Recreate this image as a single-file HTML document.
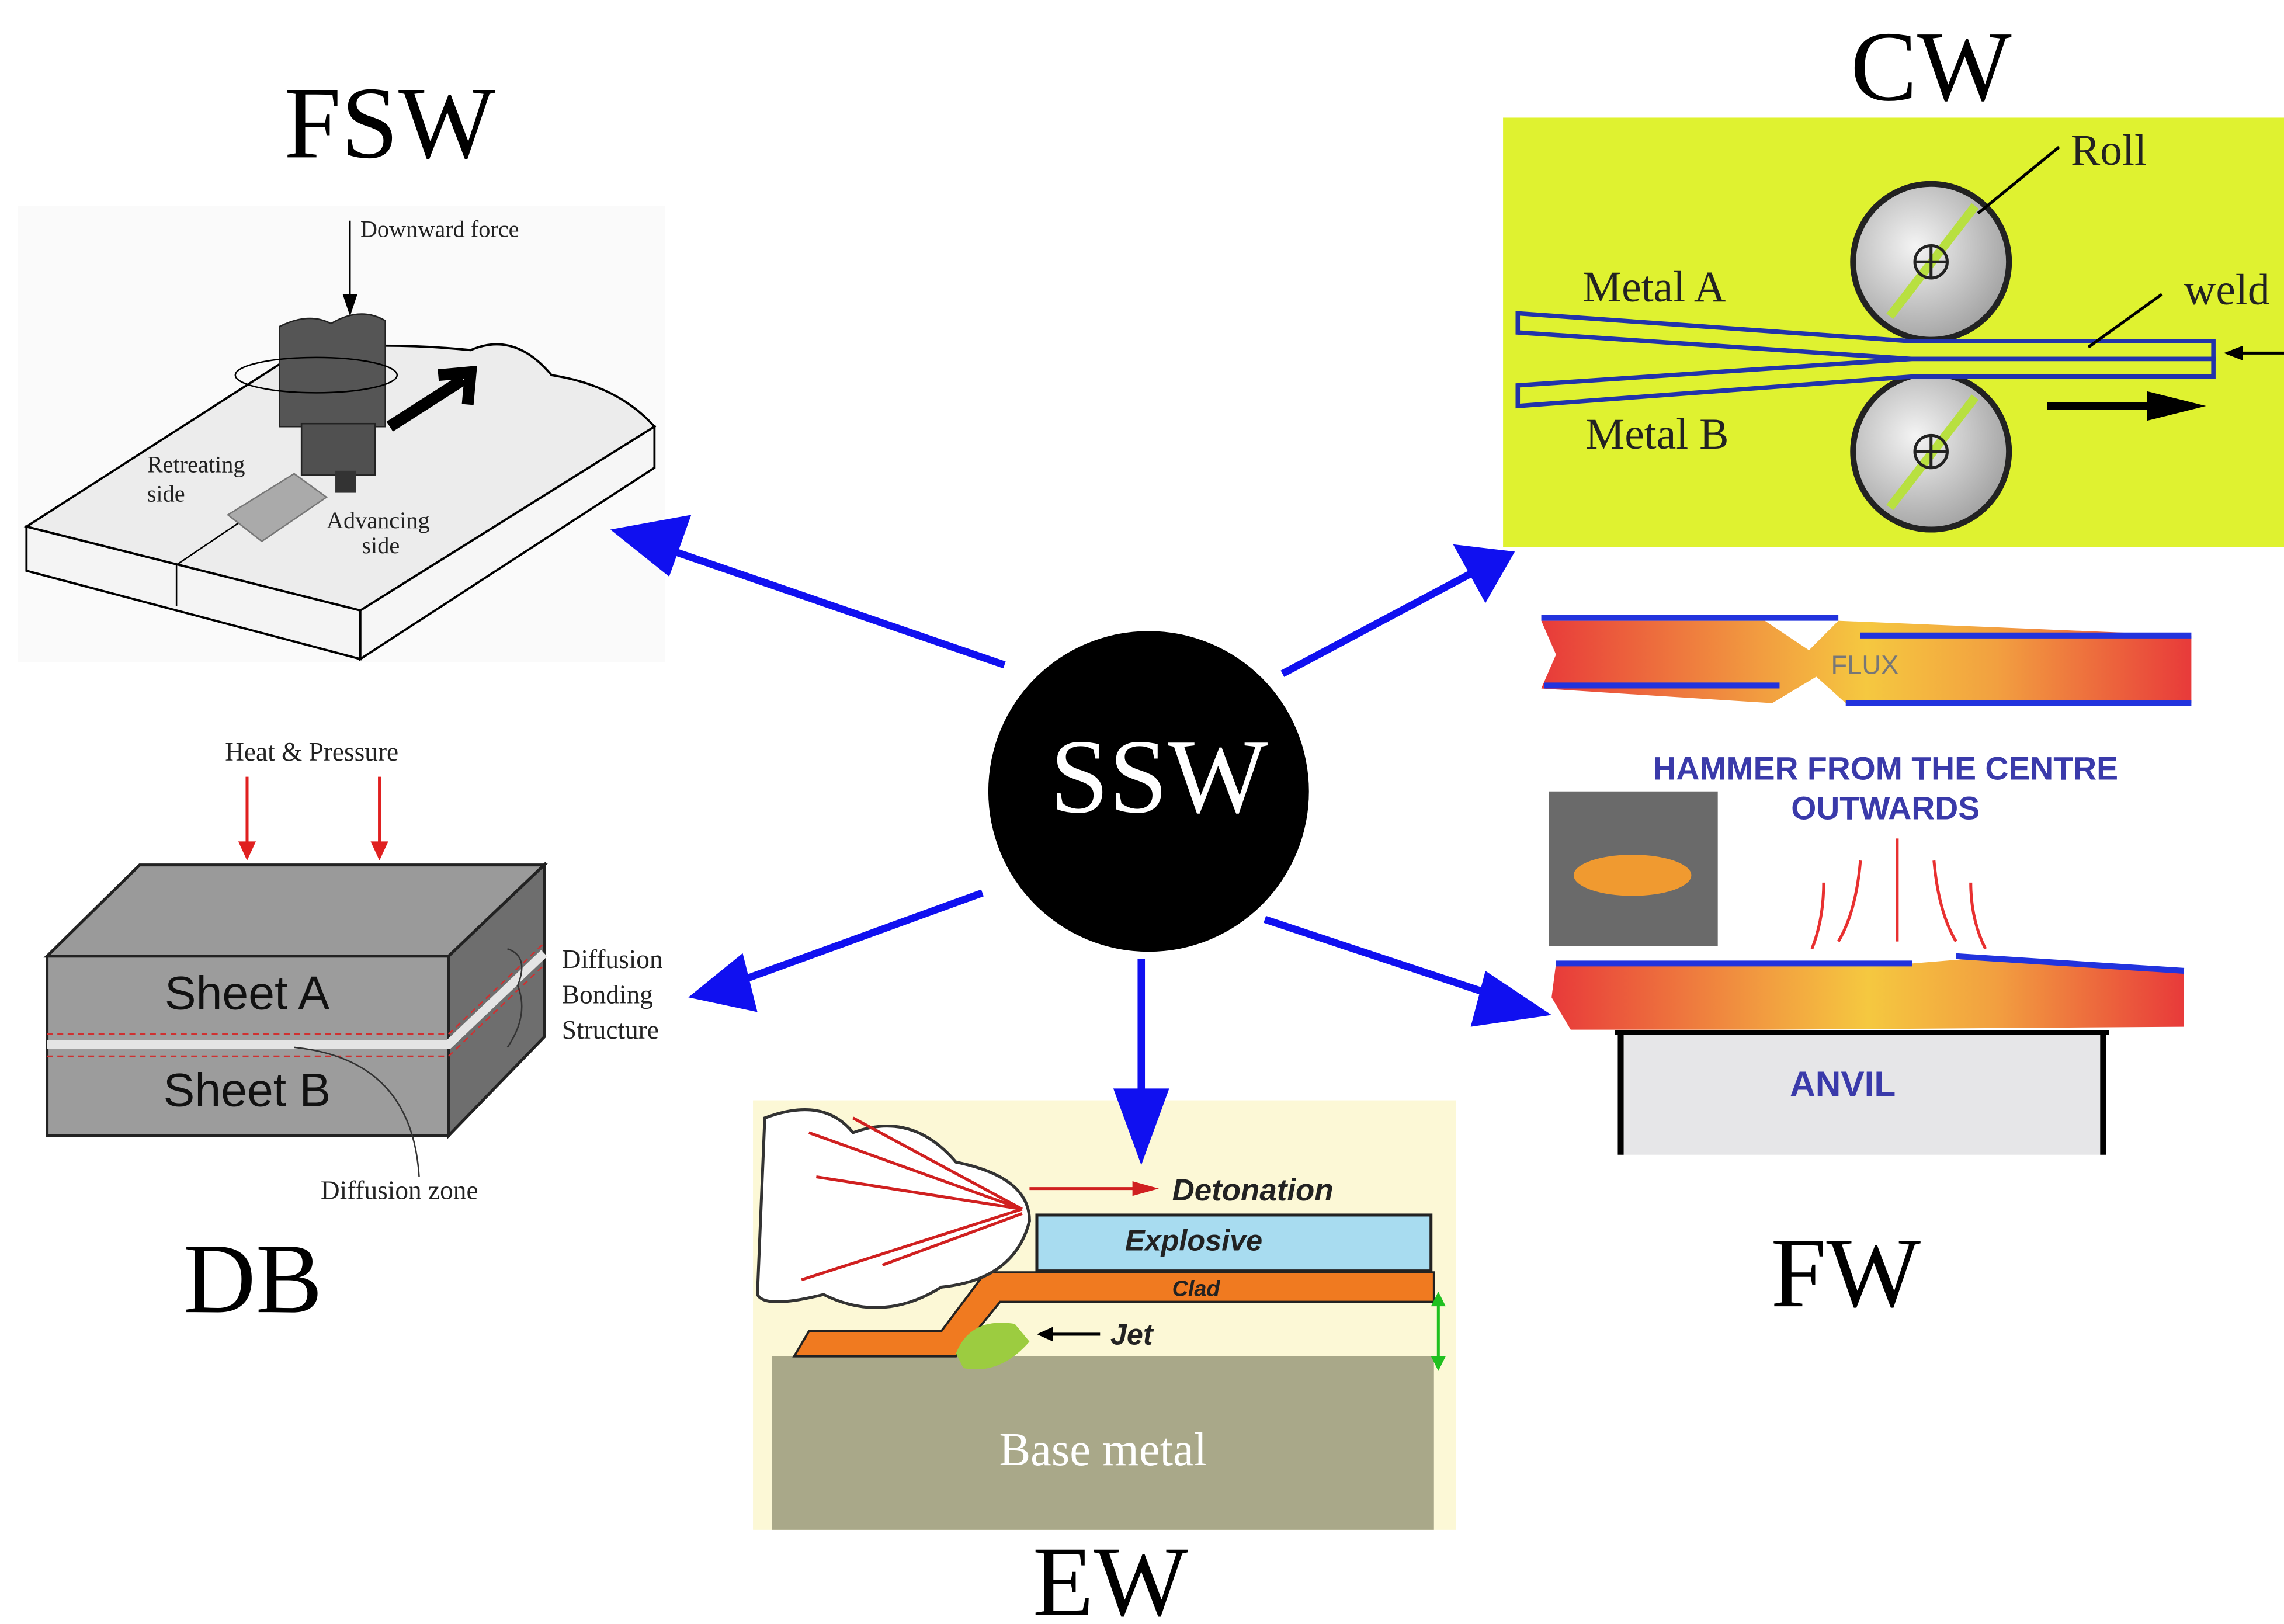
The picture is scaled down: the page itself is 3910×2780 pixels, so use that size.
<!DOCTYPE html>
<html><head><meta charset="utf-8"><style>html,body{margin:0;padding:0;background:#fff}svg{display:block}</style></head>
<body>
<svg width="3910" height="2780" viewBox="0 0 1553 1104" preserveAspectRatio="none" xmlns="http://www.w3.org/2000/svg">
<defs>
<linearGradient id="bar" x1="0" x2="1" y1="0" y2="0">
<stop offset="0" stop-color="#e83a3a"/><stop offset="0.35" stop-color="#f2a040"/><stop offset="0.5" stop-color="#f5c840"/><stop offset="0.7" stop-color="#f2a040"/><stop offset="1" stop-color="#e83a3a"/></linearGradient>
<radialGradient id="roll" cx="0.4" cy="0.4" r="0.7"><stop offset="0" stop-color="#f4f4f4"/><stop offset="1" stop-color="#9a9a9a"/></radialGradient>
</defs>
<rect width="1553" height="1104" fill="#fff"/>
<g font-family="Liberation Serif, serif">
<text x="265" y="107" font-size="70" text-anchor="middle">FSW</text>
<text x="1313" y="68" font-size="68" text-anchor="middle">CW</text>
<text x="172" y="892" font-size="68" text-anchor="middle">DB</text>
<text x="1255" y="888" font-size="68" text-anchor="middle">FW</text>
<text x="755" y="1098" font-size="68" text-anchor="middle">EW</text>
</g>
<!-- FSW -->
<rect x="12" y="140" width="440" height="310" fill="#fafafa"/>
<path d="M18 358 L205 238 Q260 232 320 238 Q350 225 375 255 Q420 262 445 290 L245 415Z" fill="#ececec" stroke="#000" stroke-width="1.5"/>
<path d="M18 358 L245 415 L245 448 L18 388Z" fill="#f4f4f4" stroke="#000" stroke-width="1.5"/>
<path d="M245 415 L445 290 L445 318 L245 448Z" fill="#f6f6f6" stroke="#000" stroke-width="1.5"/>
<line x1="120" y1="384" x2="120" y2="412" stroke="#000"/>
<line x1="120" y1="384" x2="200" y2="330" stroke="#000"/>
<path d="M155 350 L200 322 L222 338 L178 368Z" fill="#aaa" stroke="#777"/>
<path d="M190 222 Q210 212 225 220 Q245 208 262 218 L262 290 L190 290Z" fill="#555" stroke="#222"/>
<rect x="205" y="288" width="50" height="35" fill="#505050" stroke="#222"/>
<rect x="228" y="320" width="14" height="15" fill="#333"/>
<ellipse cx="215" cy="255" rx="55" ry="12" fill="none" stroke="#000"/>
<path d="M265 290 L315 258" stroke="#000" stroke-width="8"/>
<path d="M298 255 L320 253 L318 275" fill="none" stroke="#000" stroke-width="8"/>
<line x1="238" y1="150" x2="238" y2="212" stroke="#000"/>
<path d="M233 200 L238 215 L243 200Z"/>
<g font-family="Liberation Serif, serif" font-size="16" fill="#222">
<text x="245" y="161">Downward force</text>
<text x="100" y="321">Retreating</text><text x="100" y="341">side</text>
<text x="222" y="359">Advancing</text><text x="246" y="376">side</text>
</g>
<!-- CW -->
<rect x="1022" y="80" width="531" height="292" fill="#dff230"/>
<circle cx="1313" cy="178" r="53" fill="url(#roll)" stroke="#222" stroke-width="4"/>
<circle cx="1313" cy="307" r="53" fill="url(#roll)" stroke="#222" stroke-width="4"/>
<line x1="1285" y1="215" x2="1343" y2="140" stroke="#b8e040" stroke-width="6"/>
<line x1="1285" y1="345" x2="1343" y2="270" stroke="#b8e040" stroke-width="6"/>
<circle cx="1313" cy="178" r="11" fill="none" stroke="#222" stroke-width="2"/><path d="M1302 178H1324M1313 167V189" stroke="#222" stroke-width="2"/>
<circle cx="1313" cy="307" r="11" fill="none" stroke="#222" stroke-width="2"/><path d="M1302 307H1324M1313 296V318" stroke="#222" stroke-width="2"/>
<path d="M1032 213 L1300 232 L1505 232 L1505 244 L1300 244 L1032 226Z" fill="#dff230" stroke="#2233aa" stroke-width="3"/>
<path d="M1032 262 L1300 244 L1505 244 L1505 256 L1300 256 L1032 276Z" fill="#dff230" stroke="#2233aa" stroke-width="3"/>
<path d="M1392 276 L1470 276" stroke="#000" stroke-width="5"/><path d="M1460 266 L1500 276 L1460 286Z"/>
<path d="M1553 240 L1520 240" stroke="#000" stroke-width="2"/><path d="M1525 235 L1512 240 L1525 245Z"/>
<line x1="1400" y1="100" x2="1345" y2="145" stroke="#000" stroke-width="2"/>
<line x1="1470" y1="200" x2="1420" y2="236" stroke="#000" stroke-width="2"/>
<g font-family="Liberation Serif, serif" font-size="30" fill="#222">
<text x="1408" y="112">Roll</text><text x="1485" y="207">weld</text>
<text x="1076" y="205">Metal A</text><text x="1078" y="305">Metal B</text>
</g>
<!-- FW -->
<path d="M1048 422 L1200 422 L1230 442 L1250 422 L1490 432 L1490 478 L1255 478 L1235 460 L1205 478 L1048 468 L1058 445Z" fill="url(#bar)"/>
<path d="M1048 420H1250M1265 432H1490M1050 466H1210M1255 478H1490" stroke="#2233dd" stroke-width="4"/>
<text x="1268" y="458" font-family="Liberation Sans, sans-serif" font-size="18" fill="#777" text-anchor="middle">FLUX</text>
<g font-family="Liberation Sans, sans-serif" font-size="22" font-weight="bold" fill="#3a3aaa" text-anchor="middle">
<text x="1282" y="530">HAMMER FROM THE CENTRE</text><text x="1282" y="557">OUTWARDS</text>
</g>
<rect x="1053" y="538" width="115" height="105" fill="#6a6a6a"/>
<ellipse cx="1110" cy="595" rx="40" ry="14" fill="#f09a30"/>
<g stroke="#e83030" stroke-width="2" fill="none">
<path d="M1290 570 V640M1265 585 Q1262 620 1250 640M1240 600 Q1240 625 1232 645M1315 585 Q1318 620 1330 640M1340 600 Q1340 625 1350 645"/></g>
<path d="M1058 655 L1300 655 L1360 650 L1485 660 L1485 698 L1200 700 L1068 700 L1055 678Z" fill="url(#bar)"/>
<path d="M1058 655H1300M1330 650L1485 660" stroke="#2233dd" stroke-width="4"/>
<rect x="1102" y="702" width="328" height="83" fill="#e6e6e8"/>
<path d="M1102 702V785M1430 702V785" stroke="#000" stroke-width="4"/><path d="M1098 702H1434" stroke="#000" stroke-width="3"/>
<text x="1253" y="745" font-family="Liberation Sans, sans-serif" font-size="24" font-weight="bold" fill="#3a3aaa" text-anchor="middle">ANVIL</text>
<!-- DB -->
<path d="M32 650 L95 588 L370 588 L305 650Z" fill="#9a9a9a" stroke="#222" stroke-width="2"/>
<rect x="32" y="650" width="273" height="122" fill="#9c9c9c" stroke="#222" stroke-width="2"/>
<path d="M305 650 L370 588 L370 705 L305 772Z" fill="#6e6e6e" stroke="#222" stroke-width="2"/>
<path d="M32 710H305L370 648" fill="none" stroke="#e4e4e4" stroke-width="6"/>
<path d="M32 703H305L370 641M32 718H305L370 656" fill="none" stroke="#d03030" stroke-dasharray="4 3"/>
<g font-family="Liberation Sans, sans-serif" font-size="32" fill="#111" text-anchor="middle"><text x="168" y="686">Sheet A</text><text x="168" y="752">Sheet B</text></g>
<path d="M168 528V578M258 528V578" stroke="#e02020" stroke-width="2"/><path d="M162 572L168 585L174 572ZM252 572L258 585L264 572Z" fill="#e02020"/>
<path d="M345 645 Q360 650 352 670 Q360 690 345 712" fill="none" stroke="#333"/>
<path d="M200 712 Q280 720 285 800" fill="none" stroke="#333"/>
<g font-family="Liberation Serif, serif" font-size="18" fill="#222">
<text x="153" y="517">Heat &amp; Pressure</text>
<text x="382" y="658">Diffusion</text><text x="382" y="682">Bonding</text><text x="382" y="706">Structure</text>
<text x="218" y="815">Diffusion zone</text></g>
<!-- EW -->
<rect x="512" y="748" width="478" height="292" fill="#fcf8d6"/>
<rect x="525" y="922" width="450" height="118" fill="#a9a889"/>
<rect x="705" y="826" width="268" height="38" fill="#a8dcf0" stroke="#222" stroke-width="2"/>
<path d="M540 922 L550 905 L640 905 L670 865 L975 865 L975 885 L680 885 L650 922Z" fill="#f07a20" stroke="#222" stroke-width="1.5"/>
<path d="M650 920 Q660 895 690 900 L700 912 Q680 935 655 930Z" fill="#9ccc40"/>
<path d="M520 760 Q560 745 580 770 Q620 755 650 790 Q700 800 700 830 Q690 870 640 875 Q600 900 560 880 Q520 890 515 880Z" fill="#fff" stroke="#333" stroke-width="2"/>
<g stroke="#d02020" stroke-width="2"><path d="M695 822L550 770M695 822L555 800M695 822L545 870M695 822L580 760M695 825L600 860M700 808H775"/></g>
<path d="M770 803L788 808L770 813Z" fill="#d02020"/>
<path d="M710 907H748" stroke="#000" stroke-width="2"/><path d="M716 902L705 907L716 912Z"/>
<path d="M978 880V930" stroke="#20c020" stroke-width="2"/><path d="M973 888L978 878L983 888ZM973 922L978 932L983 922Z" fill="#20c020"/>
<g font-family="Liberation Sans, sans-serif" font-weight="bold" font-style="italic" fill="#222">
<text x="797" y="816" font-size="21">Detonation</text><text x="765" y="850" font-size="20">Explosive</text>
<text x="797" y="881" font-size="15">Clad</text><text x="755" y="914" font-size="20">Jet</text></g>
<text x="750" y="996" font-family="Liberation Serif, serif" font-size="32" fill="#fff" text-anchor="middle">Base metal</text>
<!-- arrows -->
<g stroke="#1010f0" stroke-width="5" fill="#1010f0">
<line x1="683" y1="452" x2="450" y2="372"/><path d="M415 360 L470 350 L455 392Z" stroke="none"/>
<line x1="872" y1="458" x2="1000" y2="390"/><path d="M1030 375 L988 370 L1010 410Z" stroke="none"/>
<line x1="668" y1="607" x2="500" y2="668"/><path d="M468 678 L505 648 L515 688Z" stroke="none"/>
<line x1="776" y1="652" x2="776" y2="750"/><path d="M776 792 L757 740 L795 740Z" stroke="none"/>
<line x1="860" y1="625" x2="1020" y2="678"/><path d="M1055 690 L1010 660 L1000 698Z" stroke="none"/>
</g>
<circle cx="781" cy="538" r="109" fill="#000"/>
<text x="788" y="552" font-family="Liberation Serif, serif" font-size="72" fill="#fff" text-anchor="middle">SSW</text>
</svg>
</body></html>
